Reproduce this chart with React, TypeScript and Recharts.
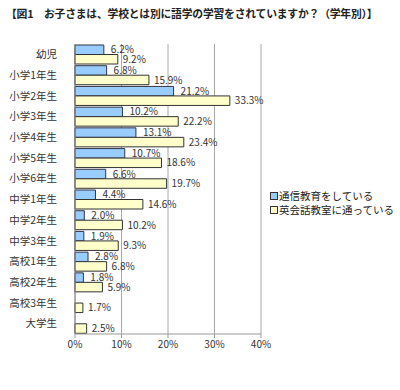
import React from 'react';
import { BarChart, Bar, XAxis, YAxis, CartesianGrid, Legend, LabelList } from 'recharts';

const grades = [
  '幼児', '小学1年生', '小学2年生', '小学3年生', '小学4年生', '小学5年生', '小学6年生',
  '中学1年生', '中学2年生', '中学3年生', '高校1年生', '高校2年生', '高校3年生', '大学生',
];
// 通信教育をしている
const correspondence = [6.2, 6.8, 21.2, 10.2, 13.1, 10.7, 6.6, 4.4, 2.0, 1.9, 2.8, 1.8, null, null];
// 英会話教室に通っている
const englishSchool = [9.2, 15.9, 33.3, 22.2, 23.4, 18.6, 19.7, 14.6, 10.2, 9.3, 6.8, 5.9, 1.7, 2.5];
const xTicks = [0, 10, 20, 30, 40];

const seriesNames = ['通信教育をしている', '英会話教室に通っている'];
const COLORS = ['#99CCFF', '#FFFFCC'];

const FONT = '"Noto Sans CJK JP", "Noto Sans", sans-serif';

const data = grades.map((name, i) => ({
  name,
  a: correspondence[i],
  b: englishSchool[i],
}));

const fmt = (v: any) => (v == null ? '' : `${Number(v).toFixed(1)}%`);

const LegendBox = () => (
  <div style={{ fontFamily: FONT, fontSize: 10.5, color: '#222', lineHeight: '14px' }}>
    {seriesNames.map((n, i) => (
      <div key={n} style={{ display: 'flex', alignItems: 'center' }}>
        <span
          style={{
            display: 'inline-block',
            width: 6,
            height: 6,
            background: COLORS[i],
            border: '1px solid #333',
            marginRight: 1,
          }}
        />
        {n}
      </div>
    ))}
  </div>
);

const App = () => {
  return (
    <div style={{ position: 'absolute', left: 0, top: 0, width: 400, height: 390, background: '#fff', fontFamily: FONT }}>
      <div
        style={{
          position: 'absolute',
          left: 6,
          top: 5,
          fontSize: 10.8,
          fontWeight: 'bold',
          color: '#222',
          whiteSpace: 'nowrap',
          letterSpacing: -0.2,
        }}
      >
        【図1　お子さまは、学校とは別に語学の学習をされていますか？（学年別）】
      </div>
      <BarChart
        width={400}
        height={390}
        data={data}
        layout="vertical"
        margin={{ top: 44, right: 139, left: 0, bottom: 8 }}
        barGap={0}
        barSize={9.5}
      >
        <CartesianGrid horizontal={false} stroke="#a8a8a8" />
        <XAxis
          type="number"
          domain={[0, 40]}
          ticks={xTicks}
          tickFormatter={(v) => `${v}%`}
          axisLine={{ stroke: '#999' }}
          tickLine={{ stroke: '#999' }}
          tickSize={4}
          tickMargin={3}
          height={20}
          tick={{ fontSize: 10, fill: '#333', fontFamily: FONT }}
        />
        <YAxis
          type="category"
          dataKey="name"
          width={75}
          axisLine={{ stroke: '#888' }}
          tickLine={false}
          tickMargin={12}
          interval={0}
          tick={{ fontSize: 10.5, fill: '#333', fontFamily: FONT }}
        />
        <Legend
          content={<LegendBox />}
          wrapperStyle={{ position: 'absolute', left: 270, top: 189, width: 130 }}
        />
        <Bar dataKey="a" name={seriesNames[0]} fill={COLORS[0]} stroke="#334" strokeWidth={1} isAnimationActive={false}>
          <LabelList dataKey="a" position="right" offset={7} formatter={fmt} style={{ fontSize: 10, fill: '#333', fontFamily: FONT }} />
        </Bar>
        <Bar dataKey="b" name={seriesNames[1]} fill={COLORS[1]} stroke="#333" strokeWidth={1} isAnimationActive={false}>
          <LabelList dataKey="b" position="right" offset={5} formatter={fmt} style={{ fontSize: 10, fill: '#333', fontFamily: FONT }} />
        </Bar>
      </BarChart>
    </div>
  );
};

export default App;
